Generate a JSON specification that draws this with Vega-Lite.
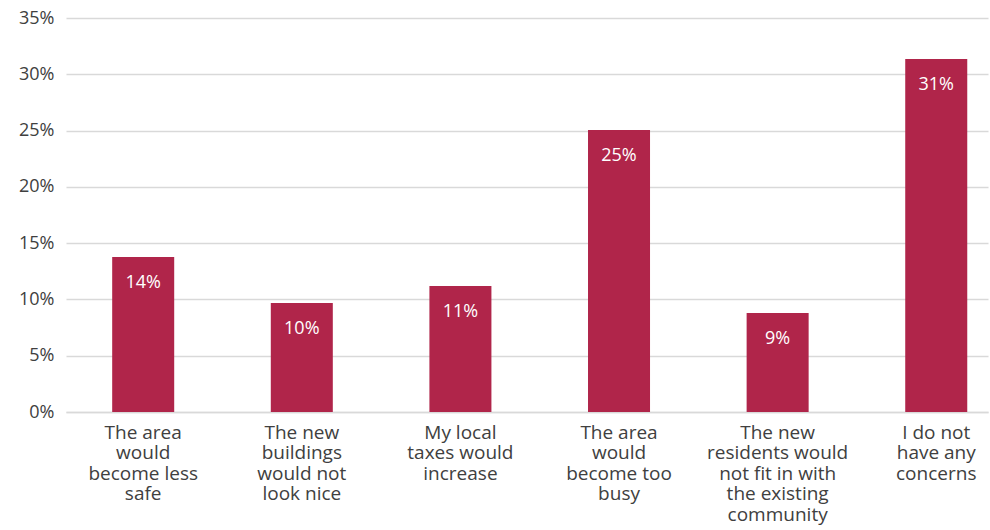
{
  "$schema": "https://vega.github.io/schema/vega-lite/v6.json",
  "width": 922,
  "height": 394,
  "autosize": {"type": "none"},
  "padding": {"left": 66, "top": 18, "right": 2, "bottom": 118},
  "background": "white",
  "config": {"view": {"stroke": null}, "font": "Open Sans"},
  "data": {
    "values": [
      {"concern": "The area|would|become less|safe", "share": 0.1377},
      {"concern": "The new|buildings|would not|look nice", "share": 0.0968},
      {"concern": "My local|taxes would|increase", "share": 0.1119},
      {"concern": "The area|would|become too|busy", "share": 0.2504},
      {"concern": "The new|residents would|not fit in with|the existing|community", "share": 0.0879},
      {"concern": "I do not|have any|concerns", "share": 0.3135}
    ]
  },
  "encoding": {
    "x": {
      "field": "concern", "type": "nominal", "sort": null,
      "scale": {"paddingInner": 0.609, "paddingOuter": 0.211, "align": 0.69},
      "axis": {
        "title": null, "labelAngle": 0, "ticks": false, "domain": true,
        "domainColor": "#d9d9d9", "domainWidth": 1.5,
        "labelExpr": "split(datum.label, '|')",
        "labelFontSize": 19, "labelLineHeight": 20.6, "labelColor": "#404040",
        "labelPadding": 11, "labelBaseline": "top", "labelLimit": 200
      }
    },
    "y": {
      "field": "share", "type": "quantitative",
      "scale": {"domain": [0, 0.35]},
      "axis": {
        "title": null, "format": ".0%", "values": [0, 0.05, 0.1, 0.15, 0.2, 0.25, 0.3, 0.35],
        "domain": false, "ticks": false, "gridColor": "#d9d9d9", "gridWidth": 1.5,
        "labelFontSize": 18, "labelColor": "#404040", "labelPadding": 12
      }
    }
  },
  "layer": [
    {"mark": {"type": "bar", "color": "#B0254A"}},
    {
      "mark": {"type": "text", "color": "white", "fontSize": 18, "baseline": "middle", "dy": 26},
      "encoding": {"text": {"field": "share", "type": "quantitative", "format": ".0%"}}
    }
  ]
}
